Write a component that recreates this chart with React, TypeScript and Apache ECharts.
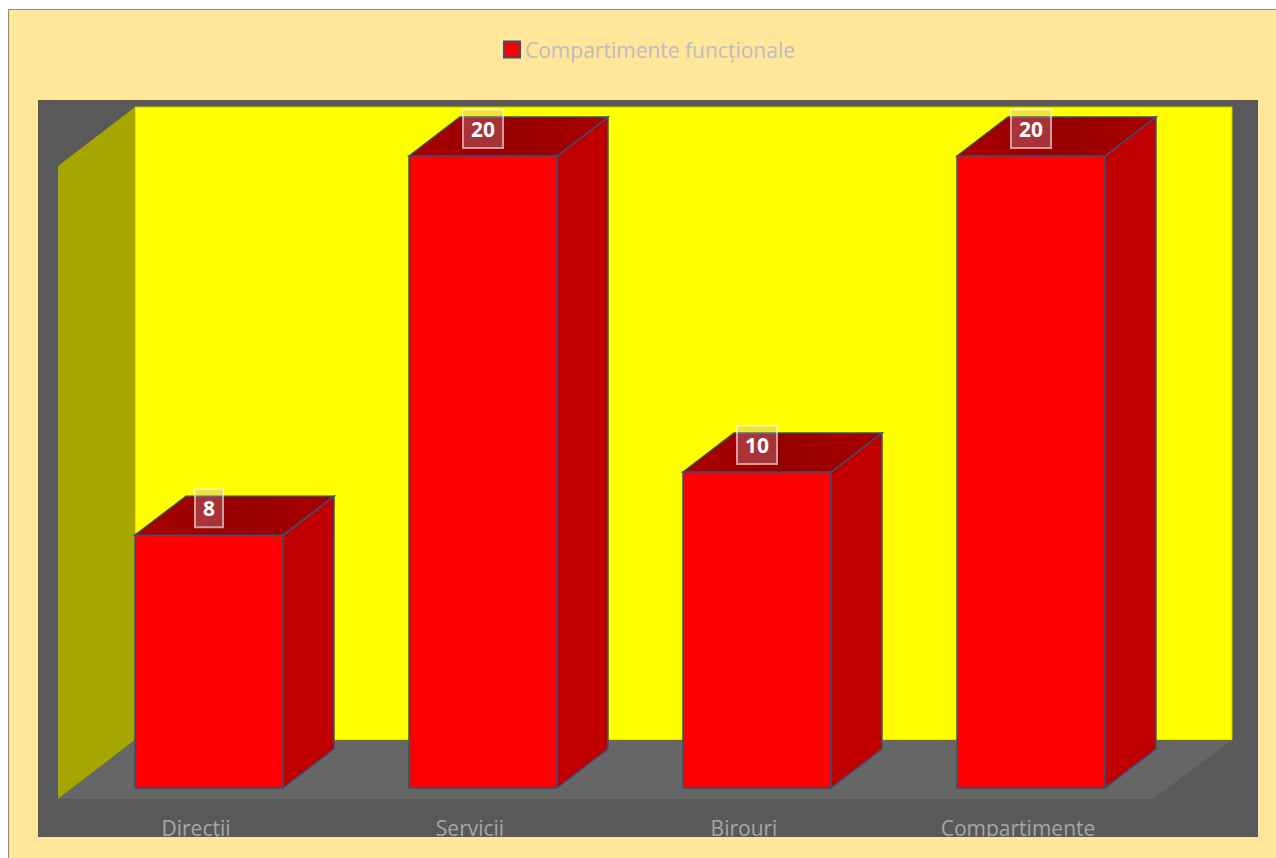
import React, { useEffect, useRef } from "react";
import * as echarts from "echarts";

const categories = ["Direcţii", "Servicii", "Birouri", "Compartimente"];
const values = [8, 20, 10, 20];
const seriesName = "Compartimente funcționale";

const W = 1276;
const H = 858;
const GRID_LEFT = 72;
const GRID_RIGHT = W - 1168;
const GRID_TOP = 156;
const GRID_BOTTOM = H - 788;
const DEPTH_X = 51;
const DEPTH_Y = -39;

export default function App() {
  const ref = useRef<HTMLDivElement>(null);
  useEffect(() => {
    if (!ref.current) return;
    const chart = echarts.init(ref.current, null, { renderer: "svg" });
    const font = "'Open Sans', 'Noto Sans', sans-serif";
    const option: any = {
      animation: false,
      backgroundColor: "#ffffff",
      legend: {
        show: true,
        left: 498,
        top: 34,
        icon: "rect",
        itemWidth: 16,
        itemHeight: 16,
        itemGap: 6,
        textStyle: { color: "#BCBCC4", fontSize: 21, fontFamily: font },
        data: [seriesName],
      },
      grid: { left: GRID_LEFT, right: GRID_RIGHT, top: GRID_TOP, bottom: GRID_BOTTOM },
      xAxis: {
        type: "category",
        data: categories,
        axisLine: { show: false },
        axisTick: { show: false },
        splitLine: { show: false },
        axisLabel: {
          color: "#A6A6A6",
          fontSize: 21,
          fontFamily: font,
          margin: 29,
          padding: [0, 26, 0, 0],
        },
      },
      yAxis: { type: "value", min: 0, max: 20, show: false },
      graphic: [
        {
          type: "rect",
          z: -10,
          shape: { x: 8.5, y: 9.5, width: 1400, height: 1000 },
          style: { fill: "#FFE699", stroke: "#8C8C8C", lineWidth: 1 },
        },
        {
          type: "rect",
          z: -9,
          shape: { x: 38, y: 100, width: 1220, height: 737 },
          style: { fill: "#595959" },
        },
        {
          type: "rect",
          z: -8,
          shape: { x: 135, y: 107, width: 1097, height: 633 },
          style: { fill: "#FFFF00", stroke: "#C8C800", lineWidth: 1 },
        },
        {
          type: "polygon",
          z: -8,
          shape: { points: [[135, 107], [58, 166], [58, 799], [135, 740]] },
          style: { fill: "#A6A600" },
        },
        {
          type: "polygon",
          z: -8,
          shape: { points: [[135, 740], [1232, 740], [1153, 799], [58, 799]] },
          style: { fill: "#666666" },
        },
        {
          type: "rect",
          z: 100,
          shape: { x: 9, y: 837, width: 1300, height: 40 },
          style: { fill: "#FFE699" },
        },
      ],
      series: [
        {
          type: "custom",
          name: seriesName,
          itemStyle: { color: "#FF0000", borderColor: "#3A4F74", borderWidth: 1.5 },
          encode: { x: 0, y: 1 },
          data: values.map((v, i) => [i, v]),
          renderItem: (params: any, api: any) => {
            const idx = api.value(0);
            const v = api.value(1);
            const top = api.coord([idx, v]);
            const base = api.coord([idx, 0]);
            const band = api.size([1, 0])[0];
            const w = band * 0.54;
            const x0 = top[0] - w / 2;
            const x1 = top[0] + w / 2;
            const yT = top[1];
            const yB = base[1];
            const stroke = "#3A4F74";
            return {
              type: "group",
              children: [
                {
                  type: "rect",
                  shape: { x: x0, y: yT, width: w, height: yB - yT },
                  style: { fill: "#FF0000", stroke, lineWidth: 1.5 },
                },
                {
                  type: "polygon",
                  shape: {
                    points: [
                      [x1, yT],
                      [x1 + DEPTH_X, yT + DEPTH_Y],
                      [x1 + DEPTH_X, yB + DEPTH_Y],
                      [x1, yB],
                    ],
                  },
                  style: { fill: "#C00000", stroke, lineWidth: 1.5 },
                },
                {
                  type: "polygon",
                  shape: {
                    points: [
                      [x0, yT],
                      [x0 + DEPTH_X, yT + DEPTH_Y],
                      [x1 + DEPTH_X, yT + DEPTH_Y],
                      [x1, yT],
                    ],
                  },
                  style: {
                    fill: new echarts.graphic.LinearGradient(0, 0, 1, 0, [
                      { offset: 0, color: "#AA0000" },
                      { offset: 0.5, color: "#960000" },
                      { offset: 1, color: "#AA0000" },
                    ]),
                    stroke,
                    lineWidth: 1.5,
                  },
                },
                {
                  type: "text",
                  x: top[0],
                  y: yT - 27,
                  style: {
                    text: String(v),
                    fill: "#FFFFFF",
                    font: `bold 21px ${font}`,
                    align: "center",
                    verticalAlign: "middle",
                    backgroundColor: "rgba(200,170,185,0.3)",
                    borderColor: "rgba(255,255,255,0.6)",
                    borderWidth: 1,
                    padding: [8, 8, 8, 8],
                    lineHeight: 22,
                  },
                },
              ],
            };
          },
        },
      ],
    };
    chart.setOption(option);
    return () => chart.dispose();
  }, []);
  return (
    <div
      ref={ref}
      style={{ position: "fixed", left: 0, top: 0, width: W, height: H }}
    />
  );
}
